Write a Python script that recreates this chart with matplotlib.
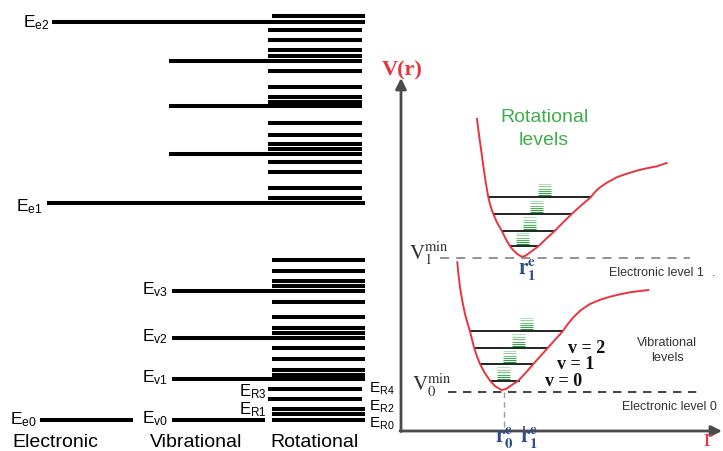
import matplotlib
matplotlib.use("Agg")
import matplotlib.pyplot as plt

plt.rcParams['mathtext.fontset'] = 'custom'
plt.rcParams['mathtext.rm'] = 'Liberation Sans'
plt.rcParams['mathtext.it'] = 'Liberation Sans:italic'
plt.rcParams['mathtext.bf'] = 'Liberation Sans:bold'

# ---- left panel: energy ladder (pixel rows) ----
electronic_y = [421, 203.5, 22.7]                 # Ee0, Ee1, Ee2
electronic_labels = ['e0', 'e1', 'e2']
vib_lower_y = [421, 380, 338.5, 292]              # Ev0..Ev3
vib_upper_y = [155, 107.3, 61.7]                  # unlabeled, upper electronic state
rot_lower_y = [420.5, 415, 409.5, 400, 389.5,     # ER0..ER4
               375.5, 371, 360, 349,
               333.5, 329, 318.3, 302.7,
               287, 282, 271.7, 261]
rot_upper_y = [199, 189, 173.3, 163.3,
               150, 145, 136, 123.7,
               102.7, 97.7, 88, 72.3,
               56.7, 51, 41, 30.7,
               17.3]
bottom_titles = ['Electronic', 'Vibrational', 'Rotational']

# ---- right panel: potential curves ----
upper_curve_x = [477, 478.5, 480, 481.7, 483.3, 485.5, 488.3, 490.5, 493.3, 497,
                 501.7, 505.5, 510, 514, 518, 521.7, 525, 530, 534, 538.3,
                 546.5, 555, 563, 571.7, 581, 590.7, 595, 600, 608, 616.7,
                 626, 636.7, 646.7, 656.7, 666.7]
upper_curve_y = [120, 132, 143, 155, 167, 182, 198.3, 207, 215, 223.5,
                 231.7, 239.5, 247.3, 252, 255.5, 257.7, 257, 253.5, 250.5, 247.3,
                 239.5, 231.7, 223.5, 215, 206.5, 198.3, 193, 188.3, 183, 178.3,
                 175, 171.7, 169.3, 167.3, 164]
lower_curve_x = [457.3, 458.5, 460, 462.3, 465, 467.5, 470, 474, 476.8, 480,
                 484.5, 490, 495.5, 501.7, 506, 510, 514, 518.3, 526, 533.3,
                 541, 548.3, 555.5, 562.7, 567.5, 573.3, 581, 590, 600, 610,
                 620, 630, 640, 648.3]
lower_curve_y = [263.3, 276, 288.3, 302, 315, 324, 332.3, 348.3, 357, 365,
                 373.5, 381.7, 387.5, 391, 390, 387.3, 384.5, 381.7, 373.5, 365,
                 356.5, 348.3, 340.3, 332.3, 325.5, 318.3, 311, 305, 300.8, 297.7,
                 295.3, 293.3, 292, 291]

upper_lvl_y = [198.3, 215, 231.7, 247.3]
upper_lvl_x0 = [488, 494, 502, 510]
upper_lvl_x1 = [591, 572, 555, 538]
upper_rot_x0 = [538, 530, 523, 516]
lower_lvl_y = [332.3, 348.7, 365, 381.5]
lower_lvl_x0 = [470, 474.5, 480, 490]
lower_lvl_x1 = [562.5, 547.5, 534, 519.5]
lower_rot_x0 = [520, 511.5, 503, 496.5]
rot_offsets = [2, 4, 6, 8.5, 11, 13.5]
rot_colors = ['#1f9434', '#2fa443', '#47b157', '#6cc27a', '#8fd199', '#b3e0b8']

RED = '#e8343f'
GREEN = '#3fae4a'
BLUE = '#2d4f8e'
AXIS = '#4a4a4a'
LW = 2.9

fig = plt.figure(figsize=(7.23, 4.52), dpi=100)
ax = fig.add_axes([0, 0, 1, 1])
ax.set_xlim(0, 723)
ax.set_ylim(452, 0)
ax.axis('off')

hl = dict(colors='black', lw=LW, capstyle='butt')

# electronic levels
ax.hlines(electronic_y[0], 40, 133, **hl)
ax.hlines(electronic_y[1], 47, 365, **hl)
ax.hlines(electronic_y[2], 52, 365, **hl)
for y, lab, xr, base in zip(electronic_y, electronic_labels, [37, 43, 50], [424, 211.5, 27]):
    ax.text(xr, base, r'$\mathrm{E}_{\mathrm{%s}}$' % lab, fontsize=12.5,
            ha='right', va='baseline')

# vibrational levels
ax.hlines(vib_lower_y[0], 172, 265, **hl)
ax.hlines(vib_lower_y[1:], 172, 365, **hl)
ax.hlines(vib_upper_y, 169, 362, **hl)
for i, y in enumerate(vib_lower_y):
    ax.text(168, y + 2.5, r'$\mathrm{E}_{\mathrm{v%d}}$' % i, fontsize=12.5,
            ha='right', va='baseline')

# rotational levels
ax.hlines(rot_lower_y[:3], 272, 365, **hl)
ax.hlines(rot_lower_y[3:5], 268, 362, **hl)
ax.hlines(rot_lower_y[5:], 272, 365, **hl)
ax.hlines(rot_upper_y[:-1], 268, 362, **hl)
ax.hlines(rot_upper_y[-1], 272, 365, **hl)

for lab, base in zip(['R3', 'R1'], [396, 414]):
    ax.text(267, base, r'$\mathrm{E}_{\mathrm{%s}}$' % lab, fontsize=12,
            ha='right', va='baseline', zorder=1)
for lab, base in zip(['R4', 'R2', 'R0'], [392.5, 410.5, 428]):
    ax.text(369, base, r'$\mathrm{E}_{\mathrm{%s}}$' % lab, fontsize=11,
            ha='left', va='baseline')

for t, xc in zip(bottom_titles, [55.5, 196, 314.5]):
    ax.text(xc, 447, t, fontsize=14, family='Liberation Sans',
            ha='center', va='baseline')

# ---- right panel ----
ax.annotate('', xy=(401, 79), xytext=(401, 432.5),
            arrowprops=dict(arrowstyle='-|>', color=AXIS, lw=2, mutation_scale=16,
                            shrinkA=0, shrinkB=0))
ax.annotate('', xy=(722, 432), xytext=(400, 432),
            arrowprops=dict(arrowstyle='-|>', color=AXIS, lw=2, mutation_scale=16,
                            shrinkA=0, shrinkB=0))
ax.text(402, 75, 'V(r)', color=RED, fontsize=16, family='Liberation Serif',
        weight='bold', ha='center', va='baseline')
ax.text(708, 446, 'r', color=RED, fontsize=19, family='Liberation Serif',
        ha='center', va='baseline')

ax.hlines(259, 440, 690, colors='#8a8a8a', lw=1.3, linestyles=(0, (5, 4)))
ax.hlines(393, 448, 698, colors='#222222', lw=1.2, linestyles=(0, (5, 4)))
ax.vlines(503.5, 393, 432, colors='#999999', lw=1, linestyles=(0, (4, 3)))
ax.vlines(523.5, 427, 432, colors=AXIS, lw=1.2)

ax.plot(upper_curve_x, upper_curve_y, color=RED, lw=1.4, zorder=3,
        solid_joinstyle='round')
ax.plot(lower_curve_x, lower_curve_y, color=RED, lw=1.4, zorder=3,
        solid_joinstyle='round')

for ys, x0s, x1s, gx in [(upper_lvl_y, upper_lvl_x0, upper_lvl_x1, upper_rot_x0),
                         (lower_lvl_y, lower_lvl_x0, lower_lvl_x1, lower_rot_x0)]:
    ax.hlines(ys, x0s, x1s, colors='#111111', lw=1.3, zorder=2)
    for y, g in zip(ys, gx):
        for off, c in zip(rot_offsets, rot_colors):
            ax.hlines(y - off, g, g + 13, colors=c, lw=0.75, zorder=2)

ax.text(544, 122, 'Rotational', color=GREEN, fontsize=14,
        family='Liberation Sans', ha='center', va='baseline')
ax.text(544, 145, 'levels', color=GREEN, fontsize=14,
        family='Liberation Sans', ha='center', va='baseline')
ax.text(667, 346.5, 'Vibrational', color='#333333', fontsize=9.2,
        family='Liberation Sans', ha='center', va='baseline')
ax.text(667, 361.5, 'levels', color='#333333', fontsize=9.2,
        family='Liberation Sans', ha='center', va='baseline')
ax.text(609, 276, 'Electronic level 1', color='#333333', fontsize=9,
        family='Liberation Sans', ha='left', va='baseline')
ax.text(712, 276, '.', color='#333333', fontsize=9,
        family='Liberation Sans', ha='left', va='baseline')
ax.text(622, 410, 'Electronic level 0', color='#333333', fontsize=9,
        family='Liberation Sans', ha='left', va='baseline')

for lab, x, base in [('2', 568, 353), ('1', 557, 369), ('0', 545, 386)]:
    ax.text(x, base, 'v = ' + lab, fontsize=13, family='Liberation Serif',
            weight='bold', ha='left', va='baseline', color='#111111')

ax.text(409, 260, r'$\mathrm{V}_1^{\mathrm{min}}$', fontsize=15, math_fontfamily='stix',
        ha='left', va='baseline', color='#333333')
ax.text(412, 391.5, r'$\mathrm{V}_0^{\mathrm{min}}$', fontsize=15, math_fontfamily='stix',
        ha='left', va='baseline', color='#333333')

for lab, x, base in [('1', 527, 275), ('0', 504.5, 443), ('1', 529.5, 443)]:
    ax.text(x, base, r'$\mathbf{r}_\mathbf{%s}^\mathbf{e}$' % lab, fontsize=15.5,
            math_fontfamily='stix', ha='center', va='baseline', color=BLUE)

fig.savefig('out.png', dpi=100)
